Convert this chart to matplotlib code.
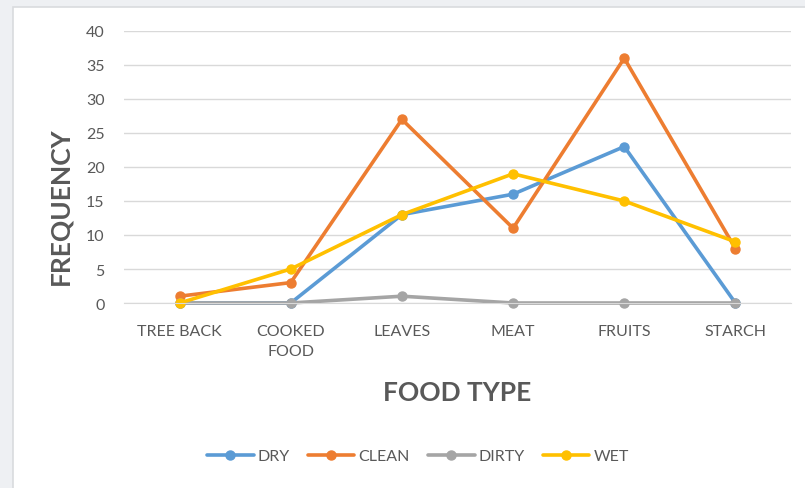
import matplotlib.pyplot as plt
from matplotlib.patches import Rectangle

categories = ['TREE BACK', 'COOKED\nFOOD', 'LEAVES', 'MEAT', 'FRUITS', 'STARCH']
dry = [0, 0, 13, 16, 23, 0]
clean = [1, 3, 27, 11, 36, 8]
dirty = [0, 0, 1, 0, 0, 0]
wet = [0, 5, 13, 19, 15, 9]

plt.rcParams['font.family'] = ['Lato', 'DejaVu Sans']
txt = '#595959'
W, H = 805, 489

fig = plt.figure(figsize=(W / 100, H / 100), dpi=100, facecolor='#eef0f3')
# white chart panel behind the axes
panel = Rectangle((13 / W, -0.05), 1.0, 1 - 8 / H + 0.05,
                  transform=fig.transFigure, facecolor='white',
                  edgecolor='#d9dbde', linewidth=1.2, zorder=-10)
fig.add_artist(panel)

ax = fig.add_axes([124 / W, 1 - 304 / H, 667 / W, 272 / H])
ax.set_facecolor('none')

x = range(len(categories))
series = [('DRY', dry, '#5B9BD5'), ('CLEAN', clean, '#ED7D31'),
          ('DIRTY', dirty, '#A5A5A5'), ('WET', wet, '#FFC000')]
for name, vals, col in series:
    ax.plot(x, vals, color=col, linewidth=2.6, marker='o', markersize=6.5,
            label=name, solid_capstyle='round', clip_on=False)

ax.set_xlim(-0.5, 5.5)
ax.set_ylim(0, 40)
ax.set_yticks(range(0, 41, 5))
ax.set_xticks(list(x))
ax.set_xticklabels(categories, linespacing=1.55, va='top')
ax.grid(axis='y', color='#d9d9d9', linewidth=1)
ax.set_axisbelow(True)
for s in ['top', 'right', 'left']:
    ax.spines[s].set_visible(False)
ax.spines['bottom'].set_color('#d9d9d9')
ax.tick_params(length=0, labelsize=11.5, colors=txt)
ax.tick_params(axis='x', pad=15)
ax.tick_params(axis='y', pad=14)

fig.text(60 / W, 1 - 206 / H, 'FREQUENCY', rotation=90, ha='center', va='center',
         fontsize=19, fontweight='bold', color=txt)
fig.text(457 / W, 1 - 393 / H, 'FOOD TYPE', ha='center', va='center',
         fontsize=19, fontweight='bold', color=txt)

ax.legend(loc='center', bbox_to_anchor=(418 / W, 1 - 457 / H),
          bbox_transform=fig.transFigure, ncol=4, frameon=False,
          fontsize=11.5, labelcolor=txt, handlelength=2.9, columnspacing=1.15,
          handletextpad=0.25)

fig.savefig('out.png', dpi=100, facecolor=fig.get_facecolor())
